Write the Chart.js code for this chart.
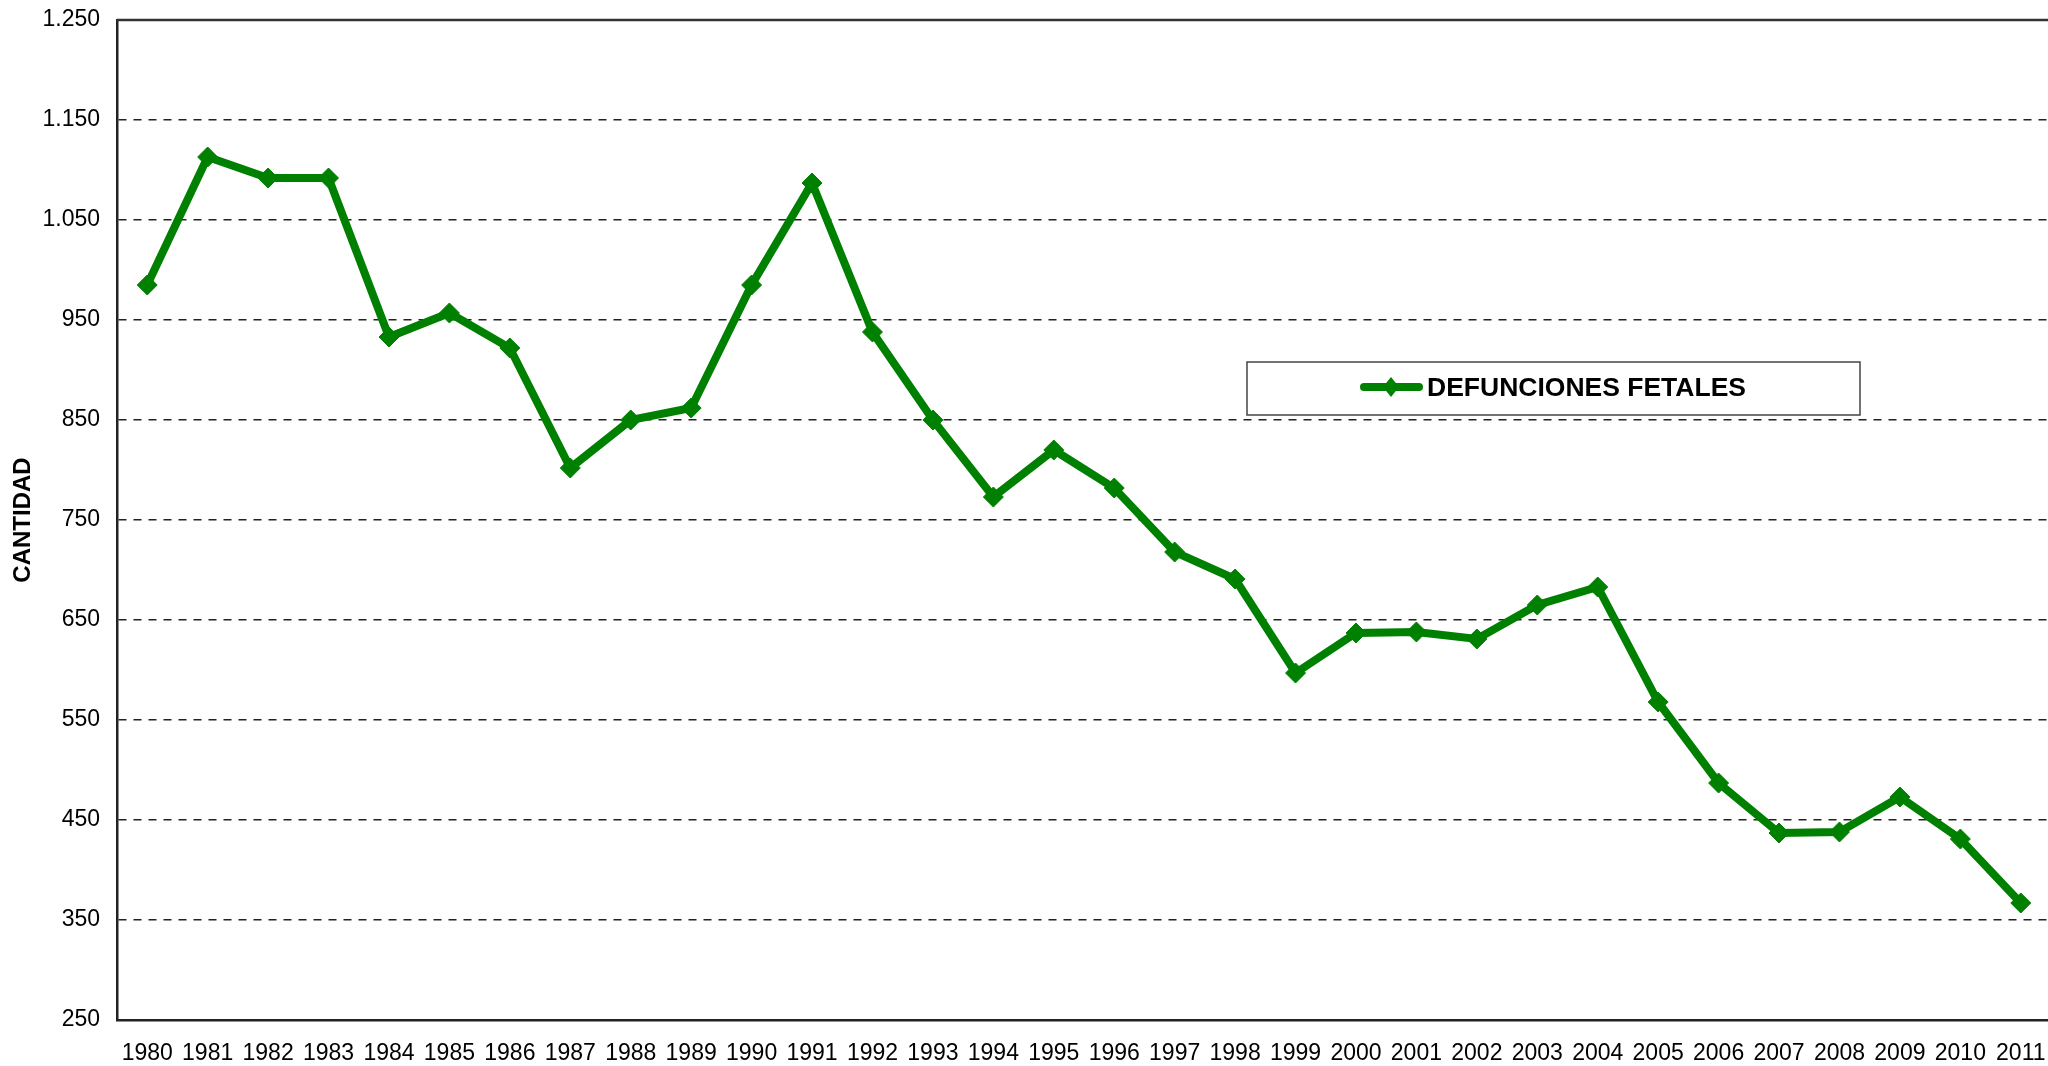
<!DOCTYPE html>
<html>
<head>
<meta charset="utf-8">
<script src="https://cdn.jsdelivr.net/npm/chart.js@4/dist/chart.umd.min.js"></script>
<style>
  html, body { margin: 0; padding: 0; background: #fff; overflow: hidden; }
  canvas { display: block; }
</style>
</head>
<body>
<canvas id="fetales" width="2062" height="1066"></canvas>
<script>
// datos ===========

const years = [
  "1980", "1981", "1982", "1983", "1984", "1985", "1986", "1987",
  "1988", "1989", "1990", "1991", "1992", "1993", "1994", "1995",
  "1996", "1997", "1998", "1999", "2000", "2001", "2002", "2003",
  "2004", "2005", "2006", "2007", "2008", "2009", "2010", "2011",
];

const defunciones = [
  985, 1113, 1092, 1092, 933, 957, 922, 802,
  850, 862, 985, 1087, 938, 850, 773, 820,
  782, 718, 691, 597, 637, 638, 631, 665,
  683, 568, 487, 437, 438, 473, 431, 367,
];

const yTicks = [250, 350, 450, 550, 650, 750, 850, 950, 1050, 1150, 1250];

const serieLabel = "DEFUNCIONES FETALES";
const axisTitle = "CANTIDAD";

// fin datos ===========

const verde = "rgb(0, 128, 0)";
const fuente = "'Liberation Sans', Arial, sans-serif";

// 1250 -> "1.250"
function miles(v) {
  return String(v).replace(/\B(?=(\d{3})+(?!\d))/g, ".");
}

// top frame line + boxed legend inside the plot
const marco = {
  id: "marco",
  afterDraw(chart) {
    const ctx = chart.ctx;
    const area = chart.chartArea;
    ctx.save();
    ctx.strokeStyle = "#333";
    ctx.lineWidth = 2.5;
    ctx.beginPath();
    ctx.moveTo(area.left, area.top);
    ctx.lineTo(area.right, area.top);
    ctx.stroke();

    // legend box
    const bx = 1247, by = 362, bw = 613, bh = 53;
    ctx.fillStyle = "#fff";
    ctx.fillRect(bx, by, bw, bh);
    ctx.strokeStyle = "#444";
    ctx.lineWidth = 1.5;
    ctx.strokeRect(bx, by, bw, bh);

    const cy = by + 25;
    ctx.strokeStyle = verde;
    ctx.lineWidth = 8;
    ctx.lineCap = "round";
    ctx.beginPath();
    ctx.moveTo(1364, cy);
    ctx.lineTo(1419, cy);
    ctx.stroke();
    ctx.fillStyle = verde;
    ctx.beginPath();
    ctx.moveTo(1391 - 8, cy);
    ctx.lineTo(1391, cy - 10);
    ctx.lineTo(1391 + 8, cy);
    ctx.lineTo(1391, cy + 10);
    ctx.closePath();
    ctx.fill();

    ctx.fillStyle = "#000";
    ctx.font = "bold 26.5px " + fuente;
    ctx.textBaseline = "middle";
    ctx.fillText(serieLabel, 1427, cy + 2);
    ctx.restore();
  },
};

const el = document.getElementById("fetales").getContext("2d");

const chartFetales = new Chart(el, {
  type: "line",
  data: {
    labels: years,
    datasets: [
      {
        label: serieLabel,
        data: defunciones,
        borderColor: verde,
        backgroundColor: verde,
        borderWidth: 8,
        pointStyle: "rectRot",
        pointRadius: 10,
        pointBorderWidth: 1,
        pointBorderColor: verde,
        pointBackgroundColor: verde,
        tension: 0,
        clip: false,
      },
    ],
  },
  options: {
    responsive: false,
    animation: false,
    layout: { padding: { top: 20, right: 0, left: 0, bottom: 0 } },
    plugins: {
      legend: { display: false },
      tooltip: { enabled: false },
    },
    scales: {
      x: {
        offset: true,
        grid: { display: false },
        border: { display: true, color: "#222", width: 2.5 },
        ticks: {
          color: "#000",
          padding: 12,
          maxRotation: 0,
          autoSkip: false,
          font: { family: fuente, size: 23 },
        },
        afterFit(scale) {
          scale.height = 46;
          scale.paddingLeft = 0;
          scale.paddingRight = 0;
        },
      },
      y: {
        min: 250,
        max: 1250,
        afterBuildTicks(scale) {
          scale.ticks = yTicks.map((v) => ({ value: v }));
        },
        grid: {
          drawTicks: false,
          color: (c) => (c.tick && (c.tick.value === 250 || c.tick.value === 1250) ? "rgba(0,0,0,0)" : "#222"),
          lineWidth: 1.5,
        },
        border: { display: true, color: "#222", width: 2.5, dash: [8, 7] },
        ticks: {
          color: "#000",
          padding: 17,
          callback: (v) => miles(v),
          font: { family: fuente, size: 23 },
        },
        title: {
          display: true,
          text: axisTitle,
          color: "#000",
          padding: { top: 9, bottom: 0 },
          font: { family: fuente, size: 24, weight: "bold" },
        },
        afterFit(scale) {
          scale.width = 117;
          scale.paddingTop = 0;
          scale.paddingBottom = 0;
        },
      },
    },
  },
  plugins: [marco],
});
</script>
</body>
</html>
